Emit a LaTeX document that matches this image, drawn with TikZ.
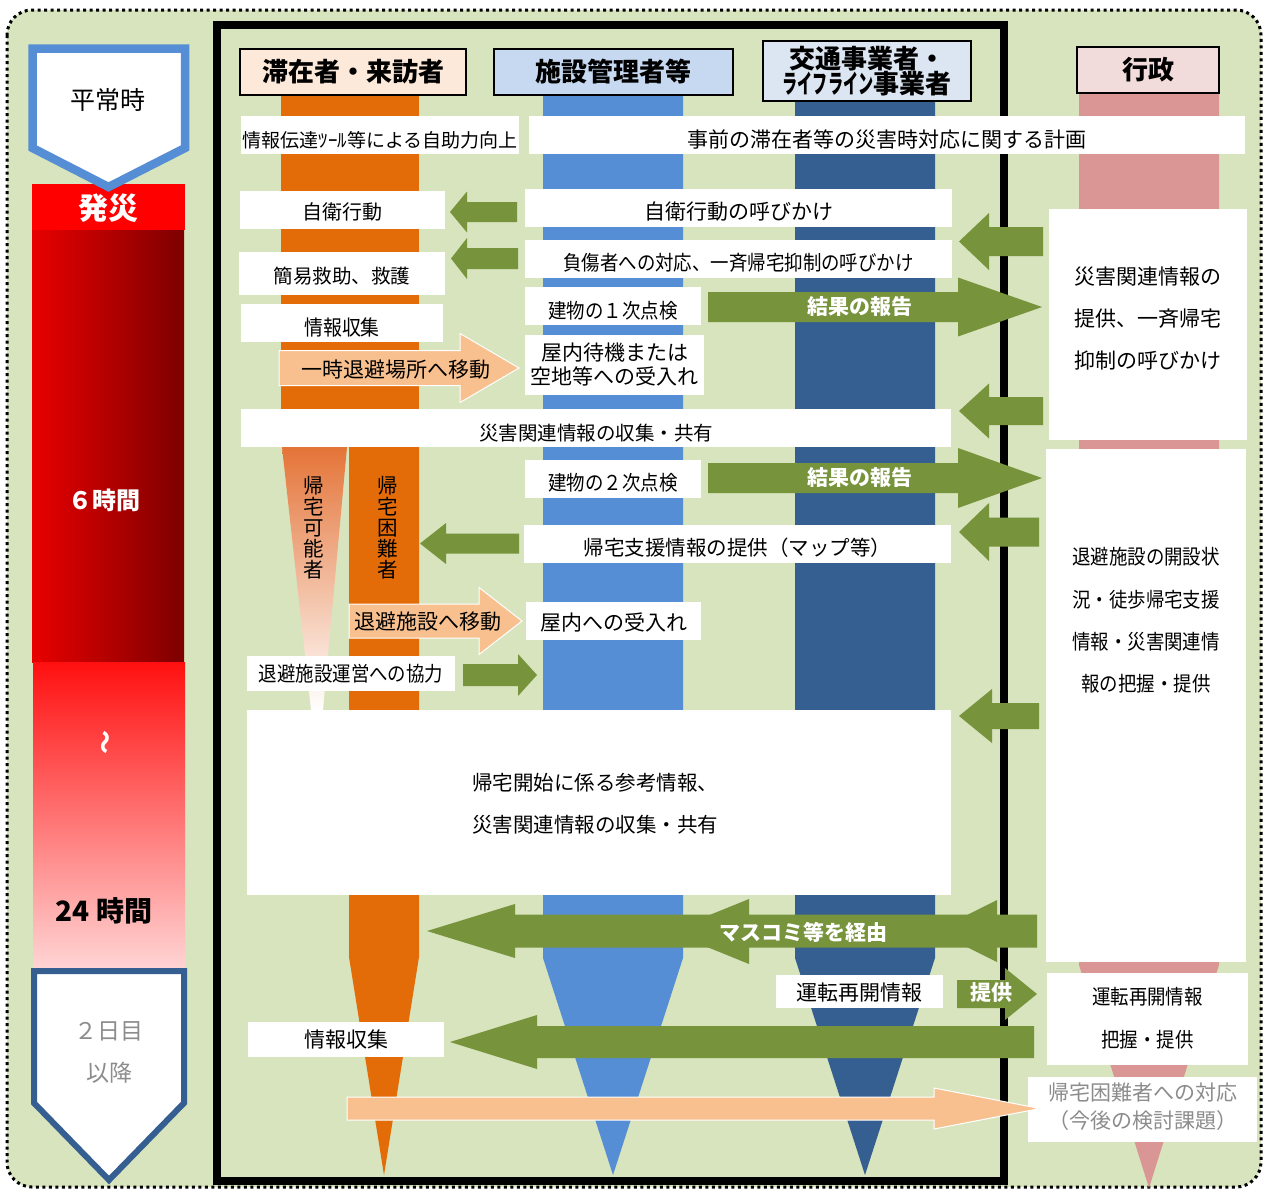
\documentclass[tikz,border=0pt]{standalone}
\usepackage{fontspec}
\setmainfont{Noto Sans CJK JP}
\newfontfamily\jpc[FakeStretch=0.9]{Noto Sans CJK JP}
\newfontfamily\jpn[FakeStretch=0.58]{Noto Sans CJK JP}
\definecolor{cBg}{RGB}{215,228,189}
\definecolor{cOr}{RGB}{227,108,9}
\definecolor{cOrL}{RGB}{228,116,56}
\definecolor{cBl}{RGB}{85,142,213}
\definecolor{cDb}{RGB}{54,95,145}
\definecolor{cPk}{RGB}{217,150,148}
\definecolor{cGr}{RGB}{119,147,60}
\definecolor{cPe}{RGB}{249,192,143}
\definecolor{cHa}{RGB}{253,233,217}
\definecolor{cHb}{RGB}{198,217,241}
\definecolor{cHc}{RGB}{220,230,242}
\definecolor{cHd}{RGB}{242,220,219}
\definecolor{cGy}{RGB}{140,140,140}
\definecolor{cRda}{RGB}{232,0,0}
\definecolor{cRdb}{RGB}{125,0,0}
\definecolor{cRdc}{RGB}{255,16,16}
\definecolor{cRdd}{RGB}{255,212,212}
\tikzset{
  lbl/.style={inner sep=0pt, align=center},
  tN/.style={font=\fontsize{#1}{24}\selectfont},
  tC/.style={font=\jpc\fontsize{#1}{24}\selectfont},
  tL/.style args={#1/#2}{font=\fontsize{#1}{#2}\selectfont},
  tCL/.style args={#1/#2}{font=\jpc\fontsize{#1}{#2}\selectfont},
  hdr/.style={draw=black, line width=2pt, inner sep=0pt, align=center, font=\bfseries\fontsize{26}{25}\selectfont},
  awt/.style={inner sep=0pt, text=white, font=\bfseries\fontsize{21}{24}\selectfont},
  peach/.style={fill=cPe, draw=white, line width=1pt}
}
% white box with centred label: name, x1, y1, x2, y2, text shift, style, text
\newcommand{\WBox}[8]{\fill[white] (#2,#3) rectangle (#4,#5);
  \node[lbl,#7] (#1) at ({(#2+#4)/2},{(#3+#5)/2+#6}) {#8};}
% block arrow: tip x, head base x, tail x, centre y, body half, head half, style
\newcommand{\BArr}[7]{\fill[#7] (#1,#4) -- (#2,{#4-#6}) -- (#2,{#4-#5}) -- (#3,{#4-#5}) -- (#3,{#4+#5}) -- (#2,{#4+#5}) -- (#2,{#4+#6}) -- cycle;}
\begin{document}
\begin{tikzpicture}[x=1pt,y=-1pt]
\useasboundingbox (0,0) rectangle (1265,1189);
% background
\draw[fill=cBg, line width=3pt, dash pattern=on 3pt off 3.5pt, rounded corners=25pt] (7,10) rectangle (1261,1187);
% frame
\draw[line width=8pt] (217,25) rectangle (1004,1181);
% left time column
\fill[red] (32,184) rectangle (185,230);
\shade[left color=cRda, right color=cRdb] (32,230) rectangle (184,662);
\shade[top color=cRdc, bottom color=cRdd] (33,662) rectangle (185,968);
\draw[cBl, line width=8.5pt, fill=white, line join=miter] (32.5,48.5) -- (185,48.5) -- (185,148) -- (108.5,187) -- (32.5,148) -- cycle;
\draw[cDb, line width=6pt, fill=white, line join=miter] (34,971) -- (184,971) -- (184,1103) -- (109,1180) -- (34,1103) -- cycle;
\node[lbl, font=\fontsize{25}{25}\selectfont] (heijo) at (108,100) {平常時};
\node[lbl, text=white, font=\bfseries\fontsize{30}{30}\selectfont] (hassai) at (108,208) {発災};
\node[lbl, text=white, font=\bfseries\fontsize{24}{24}\selectfont] (six) at (104,500) {６時間};
\node[lbl, text=white, rotate=90, font=\bfseries\fontsize{24}{24}\selectfont] (tilde) at (108,742) {～};
\node[lbl, font=\bfseries\fontsize{28}{28}\selectfont] (hday) at (104,911) {24 時間};
\node[lbl, text=cGy, font=\fontsize{23}{42}\selectfont] (day2) at (109,1052) {２日目\\以降};
% vertical bars
\fill[cOr] (281,95) rectangle (419,447);
\fill[cOr] (349,447) -- (419,447) -- (419,957) -- (384,1175) -- (349,957) -- cycle;
\shade[top color=cOrL, bottom color=white] (282,447) -- (347,447) -- (323,710) -- (311,710) -- cycle;
\fill[cBl] (543,95) -- (683,95) -- (683,958) -- (613,1175) -- (543,958) -- cycle;
\fill[cDb] (795,101) -- (935,101) -- (935,958) -- (865,1175) -- (795,958) -- cycle;
\fill[cPk] (1079,93) -- (1219,93) -- (1219,965) -- (1149,1188) -- (1079,965) -- cycle;
% headers
\node[hdr, fill=cHa, minimum width=226pt, minimum height=46pt] (hA) at (353,72) {滞在者・来訪者};
\node[hdr, fill=cHb, minimum width=239pt, minimum height=46pt] (hB) at (613.5,72) {施設管理者等};
\node[hdr, fill=cHc, minimum width=208pt, minimum height=60pt] (hC) at (867,71) {交通事業者・\\{\jpn ライフライン}事業者};
\node[hdr, fill=cHd, minimum width=142pt, minimum height=46pt] (hD) at (1148,70) {行政};
% vertical labels
\node[lbl, font=\fontsize{20.5}{21}\selectfont] (kanou) at (314,527.5) {帰\\宅\\可\\能\\者};
\node[lbl, font=\fontsize{20.5}{21}\selectfont] (konnan) at (388,527.5) {帰\\宅\\困\\難\\者};
% white boxes
\WBox{bA}{241}{116}{519}{154}{5}{tN=19}{情報伝達ﾂｰﾙ等による自助力向上}
\WBox{bB}{529}{116}{1245}{154}{5}{tN=21}{事前の滞在者等の災害時対応に関する計画}
\WBox{bC}{240}{191}{445}{229}{2}{tN=20}{自衛行動}
\WBox{bD}{525}{189}{952}{227}{4}{tN=21}{自衛行動の呼びかけ}
\WBox{bE}{239}{252}{445}{295}{3}{tN=19.5}{簡易救助、救護}
\WBox{bF}{525}{240}{952}{278}{4}{tC=20.5}{負傷者への対応、一斉帰宅抑制の呼びかけ}
\WBox{bG}{525}{287}{701}{325}{5}{tC=20.5}{建物の１次点検}
\WBox{bH}{241}{304}{443}{342}{5}{tC=21}{情報収集}
\WBox{bI}{525}{335}{704}{395}{0}{tL=21/24}{屋内待機または\\空地等への受入れ}
\WBox{bJ}{241}{409}{951}{447}{5}{tN=19.5}{災害関連情報の収集・共有}
\WBox{bK}{525}{460}{701}{498}{4}{tC=20.5}{建物の２次点検}
\WBox{bL}{524}{525}{951}{563}{4}{tN=20.5}{帰宅支援情報の提供（マップ等）}
\WBox{bM}{526}{602}{701}{640}{1}{tN=21}{屋内への受入れ}
\WBox{bN}{247}{656}{455}{691}{0}{tC=20.5}{退避施設運営への協力}
\fill[white] (247,710) rectangle (951,895);
\node[lbl, anchor=west, align=left, font=\fontsize{20.5}{42}\selectfont] (bO) at (472,804) {帰宅開始に係る参考情報、\\災害関連情報の収集・共有};
\WBox{bP}{776}{975}{943}{1008}{1}{tN=21}{運転再開情報}
\WBox{bQ}{248}{1022}{444}{1057}{0}{tN=21}{情報収集}
\WBox{gA}{1049}{209}{1247}{440}{-6}{tL=21/42}{災害関連情報の\\提供、一斉帰宅\\抑制の呼びかけ}
\WBox{gB}{1046}{449}{1246}{962}{-85}{tCL=20.5/42.3}{退避施設の開設状\\況・徒歩帰宅支援\\情報・災害関連情\\報の把握・提供}
\WBox{gC}{1047}{973}{1248}{1065}{-0.5}{tCL=20.5/43}{運転再開情報\\把握・提供}
\WBox{gD}{1028}{1077}{1257}{1142}{-2.5}{tL=21/28,text=cGy}{帰宅困難者への対応\\（今後の検討課題）}
% green arrows
\BArr{450}{467}{517}{212}{10}{20.5}{cGr}
\BArr{451}{467}{518}{258.5}{10.5}{20.5}{cGr}
\BArr{1042}{958}{708}{307}{15}{29.5}{cGr}
\BArr{959}{989}{1043}{241.5}{14.5}{28.5}{cGr}
\BArr{959}{989}{1043}{411}{14}{27.5}{cGr}
\BArr{1042}{958}{708}{478}{15}{30}{cGr}
\BArr{959}{989}{1039}{532}{14.5}{29}{cGr}
\BArr{420}{446}{519}{543.5}{10}{20.5}{cGr}
\BArr{537}{518}{463}{675}{11}{21}{cGr}
\BArr{959}{992}{1039}{716}{13}{27}{cGr}
\BArr{427}{515}{1037}{931}{16.5}{27}{cGr}
\fill[cGr] (749,899) -- (749,964) -- (669,931.5) -- cycle;
\fill[cGr] (997,900) -- (997,962) -- (935,931) -- cycle;
\BArr{1037}{1005}{957}{994}{14}{26}{cGr}
\BArr{450}{537}{1034}{1042}{16}{27}{cGr}
% peach arrows
\BArr{519}{460}{279}{368}{17.5}{34.5}{peach}
\BArr{522}{479}{349}{621}{17}{33.5}{peach}
\BArr{1040}{934}{347}{1108.5}{11.5}{20.5}{peach}
% arrow labels
\node[awt] (resA) at (860,307) {結果の報告};
\node[awt] (resB) at (860,478) {結果の報告};
\node[awt] (mass) at (803,932) {マスコミ等を経由};
\node[awt] (prov) at (991,993) {提供};
\node[lbl, tN=21] (moveA) at (396,370) {一時退避場所へ移動};
\node[lbl, tN=21] (moveB) at (428,622) {退避施設へ移動};
\end{tikzpicture}
\end{document}
